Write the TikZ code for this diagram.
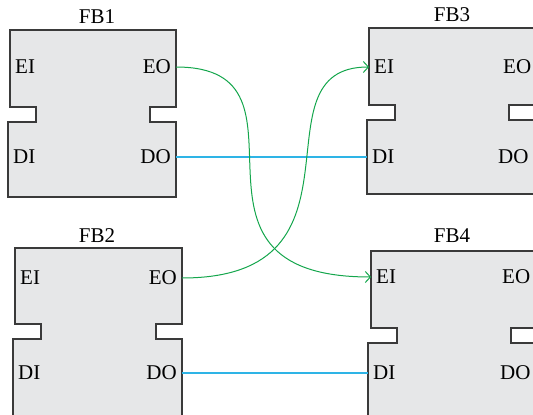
\documentclass[tikz,border=0pt]{standalone}
\usepackage{fontspec}
\setmainfont{Liberation Serif}
\usetikzlibrary{arrows}
\usetikzlibrary{arrows.meta}

\definecolor{blockgray}{HTML}{E6E7E8}
\definecolor{edgegray}{HTML}{3A3A3A}
\definecolor{evgreen}{HTML}{14A64C}
\definecolor{datablue}{HTML}{2EB4E6}

\tikzset{
  fb/.style={draw=edgegray, fill=blockgray, line width=1.1pt},
  port/.style={inner sep=5pt, font=\fontsize{21}{23}\selectfont},
  fbname/.style={inner sep=1pt, font=\fontsize{21}{23}\selectfont},
  event/.style={evgreen, line width=1pt, -{Straight Barb[length=5pt,width=11pt]}},
  data/.style={datablue, line width=1.4pt}
}

\begin{document}
\begin{tikzpicture}[x=1pt,y=-1pt]
\useasboundingbox (0,0) rectangle (533,415);
\clip (0,0) rectangle (533,415);
% FB1
\draw[fb] (10,30) -- (176,30) -- (176,107) -- (150,107) -- (150,122) -- (176,122) -- (176,197) -- (8,197) -- (8,122) -- (36,122) -- (36,107) -- (10,107) -- cycle;
\node[fbname] (fb1) at (97,17) {FB1};
\node[port, anchor=west] (fb1ei) at (10,67) {EI};
\node[port, anchor=east] (fb1eo) at (176,67) {EO};
\node[port, anchor=west] (fb1di) at (8,157) {DI};
\node[port, anchor=east] (fb1do) at (176,157) {DO};
% FB2
\draw[fb] (15,248) -- (182,248) -- (182,324) -- (156,324) -- (156,339) -- (182,339) -- (182,420) -- (13,420) -- (13,339) -- (41,339) -- (41,324) -- (15,324) -- cycle;
\node[fbname] (fb2) at (97,236) {FB2};
\node[port, anchor=west] (fb2ei) at (15,278) {EI};
\node[port, anchor=east] (fb2eo) at (182,278) {EO};
\node[port, anchor=west] (fb2di) at (13,373) {DI};
\node[port, anchor=east] (fb2do) at (182,373) {DO};
% FB3
\draw[fb] (369,28) -- (537,28) -- (537,105) -- (509,105) -- (509,120) -- (537,120) -- (537,194) -- (367,194) -- (367,120) -- (395,120) -- (395,105) -- (369,105) -- cycle;
\node[fbname] (fb3) at (452,15) {FB3};
\node[port, anchor=west] (fb3ei) at (369,67) {EI};
\node[port, anchor=west] (fb3eo) at (498,67) {EO};
\node[port, anchor=west] (fb3di) at (367,157) {DI};
\node[port, anchor=west] (fb3do) at (493,157) {DO};
% FB4
\draw[fb] (371,251) -- (537,251) -- (537,328) -- (511,328) -- (511,343) -- (537,343) -- (537,420) -- (368,420) -- (368,343) -- (397,343) -- (397,328) -- (371,328) -- cycle;
\node[fbname] (fb4) at (452,236) {FB4};
\node[port, anchor=west] (fb4ei) at (371,277) {EI};
\node[port, anchor=west] (fb4eo) at (497,277) {EO};
\node[port, anchor=west] (fb4di) at (368,373) {DI};
\node[port, anchor=west] (fb4do) at (495,373) {DO};
% connections
\draw[data] (fb1do.east) -- (fb3di.west);
\draw[data] (fb2do.east) -- (fb4di.west);
\draw[event] (fb1eo.east) .. controls +(154,0) and +(-216,0) .. (fb4ei.west);
\draw[event] (fb2eo.east) .. controls +(198,0) and +(-119,0) .. (fb3ei.west);
\end{tikzpicture}
\end{document}
